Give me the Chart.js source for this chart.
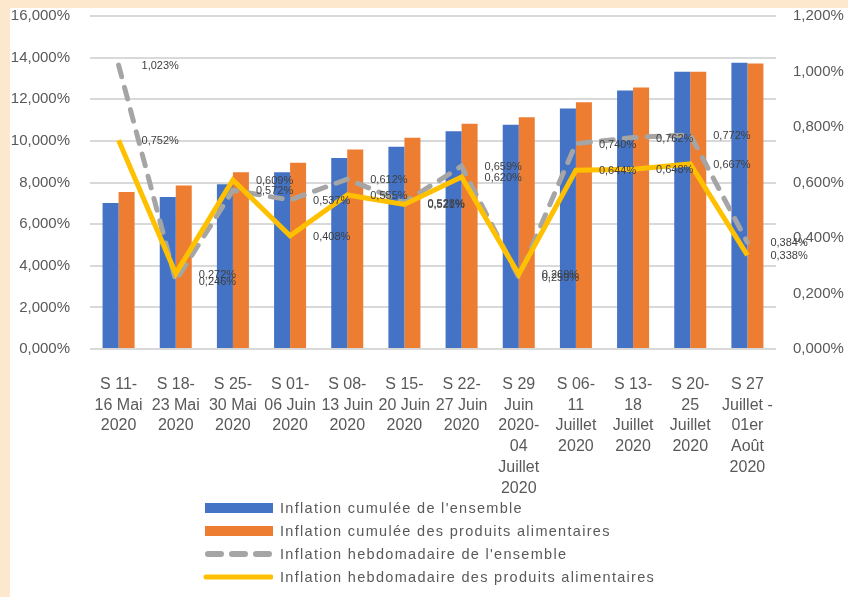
<!DOCTYPE html>
<html>
<head>
<meta charset="utf-8">
<script src="https://cdn.jsdelivr.net/npm/chart.js@4.4.0/dist/chart.umd.min.js"></script>
<style>
  body { margin: 0; background: #fde8ce; width: 848px; height: 597px; overflow: hidden; position: relative; font-family: 'Liberation Sans', Arial, sans-serif; }
  #box { position: absolute; left: 10px; top: 8px; width: 838px; height: 589px; background: #fff; }
  #title { position: absolute; left: 0; width: 912px; top: -17px; text-align: center; font: bold 19px 'Liberation Sans', Arial, sans-serif; color: #7b1010; }
  #wrap { position: absolute; left: 0; top: -13px; width: 848px; height: 513px; }
  #legend { position: absolute; left: 203px; top: 496px; }
  .row { height: 23px; display: flex; align-items: center; color: #595959; font-size: 14.5px; letter-spacing: 1.3px; }
  .row svg { margin-right: 7px; }
</style>
</head>
<body>
<div id="box"></div>
<div id="title">Taux d'inflation</div>
<div id="wrap"><canvas id="myChart" width="848" height="513"></canvas></div>
<div id="legend"></div>
<script>
const labels = [
  ['S 11-', '16 Mai', '2020'],
  ['S 18-', '23 Mai', '2020'],
  ['S 25-', '30 Mai', '2020'],
  ['S 01-', '06 Juin', '2020'],
  ['S 08-', '13 Juin', '2020'],
  ['S 15-', '20 Juin', '2020'],
  ['S 22-', '27 Juin', '2020'],
  ['S 29', 'Juin', '2020-', '04', 'Juillet', '2020'],
  ['S 06-', '11', 'Juillet', '2020'],
  ['S 13-', '18', 'Juillet', '2020'],
  ['S 20-', '25', 'Juillet', '2020'],
  ['S 27', 'Juillet -', '01er', 'Août', '2020']
];
const cumulEnsemble = [7.02, 7.30, 7.91, 8.49, 9.18, 9.72, 10.46, 10.78, 11.56, 12.42, 13.32, 13.75];
const cumulAlim = [7.54, 7.85, 8.49, 8.95, 9.58, 10.15, 10.82, 11.14, 11.85, 12.57, 13.32, 13.72];
const hebdoEnsemble = [1.023, 0.246, 0.572, 0.537, 0.612, 0.528, 0.659, 0.259, 0.740, 0.762, 0.772, 0.384];
const hebdoAlim = [0.752, 0.272, 0.609, 0.408, 0.555, 0.521, 0.620, 0.269, 0.644, 0.648, 0.667, 0.338];

const fmt = (v) => v.toFixed(3).replace('.', ',') + '%';
const tickFont = { family: "'Liberation Sans', Arial, sans-serif", size: 15 };

const pointLabels = {
  id: 'pointLabels',
  afterDatasetsDraw(chart) {
    const ctx = chart.ctx;
    ctx.save();
    ctx.font = "11px 'Liberation Sans', Arial, sans-serif";
    ctx.fillStyle = '#404040';
    ctx.textBaseline = 'middle';
    chart.data.datasets.forEach((ds, i) => {
      if (ds.type !== 'line') return;
      chart.getDatasetMeta(i).data.forEach((pt, j) => {
        ctx.fillText(fmt(ds.data[j]), pt.x + 23, pt.y + 1);
      });
    });
    ctx.restore();
  }
};

const data = {
  labels: labels,
  datasets: [
    { type: 'bar', label: "Inflation cumulée de l'ensemble", data: cumulEnsemble, yAxisID: 'y',
      backgroundColor: '#4472c4', order: 2 },
    { type: 'bar', label: "Inflation cumulée des produits alimentaires", data: cumulAlim, yAxisID: 'y',
      backgroundColor: '#ed7d31', order: 3 },
    { type: 'line', label: "Inflation hebdomadaire de l'ensemble", data: hebdoEnsemble, yAxisID: 'y1',
      borderColor: '#a5a5a5', backgroundColor: '#a5a5a5', borderWidth: 5, borderDash: [12, 11], borderCapStyle: 'round',
      pointRadius: 0, tension: 0, order: 1 },
    { type: 'line', label: "Inflation hebdomadaire des produits alimentaires", data: hebdoAlim, yAxisID: 'y1',
      borderColor: '#ffc000', backgroundColor: '#ffc000', borderWidth: 5, pointRadius: 0, tension: 0, order: 0 }
  ]
};

const config = {
  type: 'bar',
  data: data,
  options: {
    responsive: false,
    animation: false,
    layout: { padding: { left: 8, right: 0, top: 0, bottom: 0 } },
    datasets: { bar: { categoryPercentage: 0.56, barPercentage: 1 } },
    plugins: { legend: { display: false }, tooltip: { enabled: false } },
    scales: {
      x: {
        grid: { display: false, drawTicks: false },
        border: { display: false },
        ticks: { color: '#595959', padding: 25, maxRotation: 0, autoSkip: false,
                 font: { family: "'Liberation Sans', Arial, sans-serif", size: 16, lineHeight: 1.3 } },
        afterFit: (s) => { s.height = 151; }
      },
      y: {
        position: 'left', min: 0, max: 16,
        grid: { color: '#d9d9d9', lineWidth: 2, drawTicks: false },
        border: { display: false },
        ticks: { stepSize: 2, color: '#595959', padding: 20, font: tickFont, callback: (v) => fmt(v) },
        afterFit: (s) => { s.width = 82; }
      },
      y1: {
        position: 'right', min: 0, max: 1.2,
        grid: { display: false, drawTicks: false },
        border: { display: false },
        ticks: { stepSize: 0.2, color: '#595959', padding: 17, font: tickFont, callback: (v) => fmt(v) },
        afterFit: (s) => { s.width = 72; }
      }
    }
  },
  plugins: [pointLabels]
};

const myChart = new Chart(document.getElementById('myChart'), config);

// legend, one item per row
const legend = document.getElementById('legend');
data.datasets.forEach((ds) => {
  let sample;
  if (ds.type === 'bar') {
    sample = '<svg width="70" height="12"><rect x="2" y="1" width="68" height="10" fill="' + ds.backgroundColor + '"/></svg>';
  } else if (ds.borderDash) {
    sample = '<svg width="70" height="12"><line x1="5" y1="6" x2="68" y2="6" stroke="' + ds.borderColor +
      '" stroke-width="6" stroke-linecap="round" stroke-dasharray="13 11"/></svg>';
  } else {
    sample = '<svg width="70" height="12"><line x1="3" y1="6" x2="68" y2="6" stroke="' + ds.borderColor +
      '" stroke-width="5" stroke-linecap="round"/></svg>';
  }
  const row = document.createElement('div');
  row.className = 'row';
  row.innerHTML = sample + '<span>' + ds.label + '</span>';
  legend.appendChild(row);
});
</script>
</body>
</html>
